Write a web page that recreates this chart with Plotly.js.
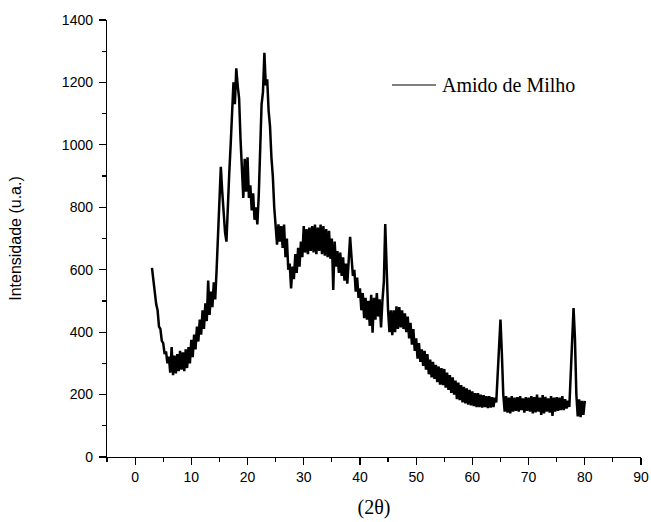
<!DOCTYPE html>
<html>
<head>
<meta charset="utf-8">
<script src="https://cdn.plot.ly/plotly-3.0.1.min.js"></script>
<style>html,body{margin:0;padding:0;background:#fff;}#chart{width:651px;height:522px;}</style>
</head>
<body>
<div id="chart"></div>
<script>
// 2θ angles (degrees)
const twoTheta = [
3,3.25,3.5,3.75,4,4.25,4.5,4.75,5,5.25,5.5,5.75,6,6.25,6.5,6.75,7,7.25,7.5,7.75,
8,8.25,8.5,8.75,9,9.25,9.5,9.75,10,10.25,10.5,10.75,11,11.25,11.5,11.75,12,12.25,12.5,12.75,
13,13.25,13.5,13.75,14,14.25,14.5,14.75,15,15.25,15.5,15.75,16,16.25,16.5,16.75,17,17.25,17.5,17.75,
18,18.25,18.5,18.75,19,19.25,19.5,19.75,20,20.25,20.5,20.75,21,21.25,21.5,21.75,22,22.25,22.5,22.75,
23,23.25,23.5,23.75,24,24.25,24.5,24.75,25,25.25,25.5,25.75,26,26.25,26.5,26.75,27,27.25,27.5,27.75,
28,28.25,28.5,28.75,29,29.25,29.5,29.75,30,30.25,30.5,30.75,31,31.25,31.5,31.75,32,32.25,32.5,32.75,
33,33.25,33.5,33.75,34,34.25,34.5,34.75,35,35.25,35.5,35.75,36,36.25,36.5,36.75,37,37.25,37.5,37.75,
38,38.25,38.5,38.75,39,39.25,39.5,39.75,40,40.25,40.5,40.75,41,41.25,41.5,41.75,42,42.25,42.5,42.75,
43,43.25,43.5,43.75,44,44.25,44.5,44.75,45,45.25,45.5,45.75,46,46.25,46.5,46.75,47,47.25,47.5,47.75,
48,48.25,48.5,48.75,49,49.25,49.5,49.75,50,50.25,50.5,50.75,51,51.25,51.5,51.75,52,52.25,52.5,52.75,
53,53.25,53.5,53.75,54,54.25,54.5,54.75,55,55.25,55.5,55.75,56,56.25,56.5,56.75,57,57.25,57.5,57.75,
58,58.25,58.5,58.75,59,59.25,59.5,59.75,60,60.25,60.5,60.75,61,61.25,61.5,61.75,62,62.25,62.5,62.75,
63,63.25,63.5,63.75,64,64.25,64.5,64.75,65,65.25,65.5,65.75,66,66.25,66.5,66.75,67,67.25,67.5,67.75,
68,68.25,68.5,68.75,69,69.25,69.5,69.75,70,70.25,70.5,70.75,71,71.25,71.5,71.75,72,72.25,72.5,72.75,
73,73.25,73.5,73.75,74,74.25,74.5,74.75,75,75.25,75.5,75.75,76,76.25,76.5,76.75,77,77.25,77.5,77.75,
78,78.25,78.5,78.75,79,79.25,79.5,79.75,80
];
// Intensidade (u.a.) – Amido de Milho
const intensidade = [
606,560,536,490,470,418,410,372,365,330,338,300,322,270,352,262,325,268,330,275,
340,280,335,275,345,285,352,300,375,320,392,345,418,370,440,392,470,410,492,435,
565,455,530,480,560,505,600,700,830,930,850,770,720,690,820,910,1000,1095,1200,1130,
1245,1190,1150,1020,900,830,955,850,960,830,870,790,845,760,800,745,840,990,1130,1170,
1295,1190,1210,1110,1060,960,900,800,740,680,745,690,740,670,745,640,700,600,620,540,
610,570,650,590,670,610,690,640,740,655,730,650,735,660,740,655,745,650,735,660,
745,650,740,645,730,640,725,635,700,535,690,610,660,590,655,580,640,565,620,555,
630,705,640,580,600,530,575,510,540,470,525,445,510,440,500,420,520,398,510,440,
525,450,505,415,500,560,746,600,470,400,470,390,470,400,483,410,480,415,470,410,
460,400,450,380,430,360,410,340,380,315,365,305,345,292,340,280,330,265,312,255,
305,250,295,240,290,232,285,230,282,222,270,215,262,205,255,200,245,185,238,182,
230,175,225,172,220,168,215,165,210,163,205,160,205,160,200,158,198,160,195,157,
195,158,192,160,190,175,260,360,440,330,200,145,195,142,190,140,195,145,190,148,
192,145,195,150,188,142,192,148,190,145,195,140,192,143,200,145,190,135,198,140,
193,145,188,142,195,132,190,145,192,148,190,150,195,150,185,155,180,160,260,380,
477,380,200,130,185,128,180,135,180
];
const seriesName = 'Amido de Milho';
const xTitle = '(2θ)';
const yTitle = 'Intensidade (u.a.)';

const trace = {
  x: twoTheta, y: intensidade, type: 'scatter', mode: 'lines',
  name: seriesName, showlegend: false,
  line: {color: '#000000', width: 2.5}
};
const axisFont = {family: 'Liberation Sans, Arial, sans-serif', size: 14, color: '#000'};
const layout = {
  width: 651, height: 522,
  margin: {l: 107, r: 10, t: 20, b: 65},
  paper_bgcolor: '#fff', plot_bgcolor: '#fff',
  showlegend: false,
  shapes: [{type: 'line', xref: 'paper', yref: 'paper', x0: 0.5337, x1: 0.6161, y0: 0.8513, y1: 0.8513,
    line: {color: '#000', width: 1.2}}],
  annotations: [{text: seriesName, xref: 'paper', yref: 'paper', x: 0.6236, y: 0.8513,
    xanchor: 'left', yanchor: 'middle', showarrow: false,
    font: {family: 'Liberation Serif, Times New Roman, serif', size: 20, color: '#000'}}],
  xaxis: {
    range: [-5, 90], tick0: 0, dtick: 10, ticks: 'outside', ticklen: 7, tickwidth: 1.2,
    tickcolor: '#000', showline: true, linecolor: '#000', linewidth: 1.2,
    showgrid: false, zeroline: false, tickfont: axisFont,
    minor: {dtick: 5, tick0: 0, ticks: 'outside', ticklen: 4, tickwidth: 1.2, tickcolor: '#000', showgrid: false},
    title: {text: xTitle, font: {family: 'Liberation Serif, Times New Roman, serif', size: 20, color: '#000'}, standoff: 16}
  },
  yaxis: {
    range: [0, 1400], tick0: 0, dtick: 200, ticks: 'outside', ticklen: 7, tickwidth: 1.2,
    tickcolor: '#000', showline: true, linecolor: '#000', linewidth: 1.2,
    showgrid: false, zeroline: false, tickfont: axisFont, ticklabelstandoff: 3,
    minor: {dtick: 100, tick0: 0, ticks: 'outside', ticklen: 4, tickwidth: 1.2, tickcolor: '#000', showgrid: false},
    title: {text: yTitle, font: {family: 'Liberation Sans, Arial, sans-serif', size: 16, color: '#000'}, standoff: 36}
  }
};
Plotly.newPlot('chart', [trace], layout, {displayModeBar: false, staticPlot: true});
</script>
</body>
</html>
